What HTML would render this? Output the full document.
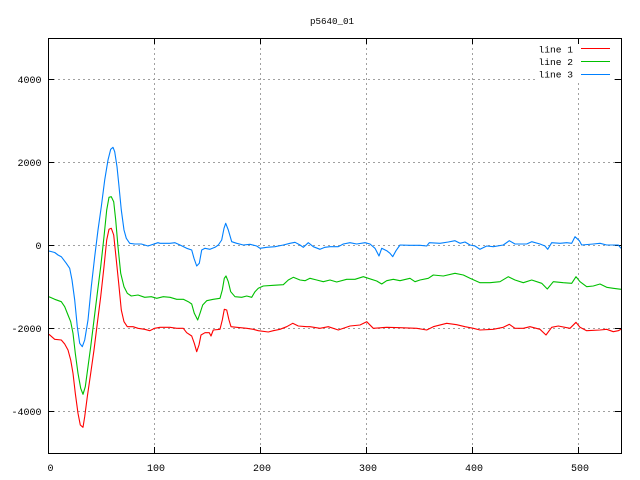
<!DOCTYPE html>
<html><head><meta charset="utf-8"><style>
html,body{margin:0;padding:0;background:#fff;}
svg{display:block;}
text{font-family:"Liberation Mono","DejaVu Sans Mono",monospace;fill:#000;}
</style></head><body>
<svg width="640" height="480" viewBox="0 0 640 480" xmlns="http://www.w3.org/2000/svg">
<rect x="0" y="0" width="640" height="480" fill="#fff"/>
<!-- grid -->
<g stroke="#a0a0a0" stroke-width="1" stroke-dasharray="2 3" fill="none">
<line x1="48" y1="79.5" x2="621" y2="79.5"/>
<line x1="48" y1="162.5" x2="621" y2="162.5"/>
<line x1="48" y1="245.5" x2="621" y2="245.5"/>
<line x1="48" y1="328.5" x2="621" y2="328.5"/>
<line x1="48" y1="411.5" x2="621" y2="411.5"/>
<line x1="154.5" y1="38" x2="154.5" y2="453"/>
<line x1="260.5" y1="38" x2="260.5" y2="453"/>
<line x1="366.5" y1="38" x2="366.5" y2="453"/>
<line x1="472.5" y1="38" x2="472.5" y2="453"/>
<line x1="578.5" y1="38" x2="578.5" y2="453"/>
</g>
<!-- legend background -->
<rect x="538" y="41" width="76" height="39" fill="#fff"/>
<!-- ticks -->
<g stroke="#000" stroke-width="1">
<line x1="48" y1="79.5" x2="54" y2="79.5"/><line x1="615" y1="79.5" x2="621" y2="79.5"/>
<line x1="48" y1="162.5" x2="54" y2="162.5"/><line x1="615" y1="162.5" x2="621" y2="162.5"/>
<line x1="48" y1="245.5" x2="54" y2="245.5"/><line x1="615" y1="245.5" x2="621" y2="245.5"/>
<line x1="48" y1="328.5" x2="54" y2="328.5"/><line x1="615" y1="328.5" x2="621" y2="328.5"/>
<line x1="48" y1="411.5" x2="54" y2="411.5"/><line x1="615" y1="411.5" x2="621" y2="411.5"/>
<line x1="154.5" y1="38" x2="154.5" y2="44"/><line x1="154.5" y1="447" x2="154.5" y2="453"/>
<line x1="260.5" y1="38" x2="260.5" y2="44"/><line x1="260.5" y1="447" x2="260.5" y2="453"/>
<line x1="366.5" y1="38" x2="366.5" y2="44"/><line x1="366.5" y1="447" x2="366.5" y2="453"/>
<line x1="472.5" y1="38" x2="472.5" y2="44"/><line x1="472.5" y1="447" x2="472.5" y2="453"/>
<line x1="578.5" y1="38" x2="578.5" y2="44"/><line x1="578.5" y1="447" x2="578.5" y2="453"/>
</g>
<!-- series -->
<g fill="none" stroke-width="1.1" stroke-linejoin="round">
<polyline stroke="#0080ff" points="49,251 54.7,252.5 58,255 61.3,256.7 66.3,263.3 69.7,268.3 72,280 74.7,300 77.3,326.7 79.7,343.3 82.3,346.7 84.7,340 88,320 91.3,286.7 94.7,256.7 98,230 101.3,206.7 104.7,180 108,160 110.7,149.3 113,147.3 114.7,151.7 117,166.7 118.7,183.3 121.3,210 124,230 126.3,238.3 129.7,243.3 134.7,244 141.3,244 148,246 158,242.7 160,243.3 170,243.3 175,242.7 180,245 186.7,248.3 191.7,250 194,258.3 196.7,266 199.3,263.3 201.7,250 205,248.3 210,249.3 215,247.3 218.3,245 221.7,240 224,228.3 225.7,223.3 228.3,230 231.7,241.7 236.7,243.3 243.3,245 250,244.3 256.7,246 260,248.3 266.7,247.3 275,246.7 283.3,245 290,243.3 295,242.3 300,245 303.3,247.3 308.3,242.7 313.3,246.7 320,249.3 325,247.3 330,246.7 338.3,246.7 343.3,244 350,242.7 356.7,244 365,242.7 370,244 375,248.3 379,256 381.7,248.3 386.7,250.7 390,253.3 392.7,256.7 396,250.7 400,245 410,245.3 420,245.3 426.7,246 429.3,242.7 440,243.3 448.3,242 455,240.7 460,243.3 465,242 470,245 475,246 480,249.3 486.7,246 493.3,246.7 503.3,245 509.3,240.7 515,244 526.7,244 531.7,241.7 540,244 545,246 547.7,249.3 551.7,242.7 560,243.3 566.7,242.7 571.7,243.3 575,236.7 579.3,240.7 581.7,245 593.3,244 600,243.3 606.7,245 618.3,245 621,248.3"/>
<polyline stroke="#00c000" points="49,296.7 54.7,299.3 61.3,301.7 64.7,306.7 68,315 70.7,321.7 73,333.3 75.3,353.3 78,373.3 80.7,388.3 83,394.3 85.3,386.7 88,366.7 90.7,346.7 94,320 97.3,293.3 100.7,266.7 104,236.7 106.7,210 109,197.3 111.3,196.7 113.7,201.7 115.7,220 118,246.7 120.7,273.3 124,286.7 127.3,293.3 131.3,296 138,295 144.7,297.3 151.3,296.7 156.7,298.3 163.3,296.7 170,297.3 176.7,299.3 183.3,299.3 188.3,301.7 191.7,304 194.3,313.3 197.7,320 200,313.3 202.7,305 206.7,300.7 213.3,299.3 220,298.3 222.3,290 224.3,278.3 226,276 228.3,281.7 230.7,291.7 235,296.7 241.7,297.3 246.7,296 251.7,297.3 255,291.7 258.3,288.3 263.3,286 273.3,285.3 283.3,284.7 288.3,280 293.3,277.3 300,280 305,280.7 310,278.3 316.7,280 323.3,281.7 330,280 336.7,282 346.7,279.3 355,279.3 363.3,276.7 368.3,278.3 376.7,281 381.7,284 386.7,280.7 393.3,279.3 400,280.7 410,278.3 415,281.7 420,280 428.3,278.3 433.3,275 443.3,276 455,273.3 463.3,275 470,278.3 480,282.7 490,282.7 500,281.7 508.3,276.7 515,280 523.3,282.7 531.7,280 541.7,283.3 547.3,289 553.3,281.7 563.3,282.7 571.7,283.3 576,276.7 580,281.7 586.7,286.7 593.3,286 600,284 606.7,287.3 613.3,288.3 621,289.3"/>
<polyline stroke="#ff0000" points="49,334.3 54.7,339.3 61.3,340 64.7,344 68,350 70.7,360 73,373.3 75.3,393.3 78,413.3 80.3,425 83,427.3 84.7,416.7 87.3,396.7 90.7,373.3 94,350 97.3,323.3 100.7,296.7 104,266.7 106.7,240 109,229.3 111.3,228.3 113.7,235 116.3,260 118.7,283.3 121.3,310 124,321.7 127.3,326.7 133,326.7 138,328.3 144.7,329.3 149.7,330.7 154.7,328.3 160,327.3 170,327.3 176.7,328.3 183.3,328.3 186.7,332.7 191.7,336 194.3,343.3 196.7,351.7 199,345 201,335 205,332.7 209.3,332.7 211,336 213.3,330 220,329.3 222.3,320 224.3,309.3 226.7,310 229,320 231,326.7 236.7,327.3 246.7,328.3 253.3,329.3 258.3,330.7 268.3,332 273.3,330.7 280,329.3 286.7,326.7 292.7,323.3 298.3,326 306.7,326.7 310,326.7 320,328.3 328.3,326.7 338.3,330 350,326 360,325 366.7,321.7 373.3,328.3 386.7,327.3 400,327.7 416.7,328.3 426.7,330 433.3,326.7 446.7,323.3 456.7,324.7 465,326.7 473.3,328.3 480,330 493.3,329.3 503.3,327.3 509.3,324.3 515,328.3 523.3,328.3 530,326.7 540,329.3 546,335 551.7,327.3 558.3,326 570,328.3 576,322.3 580,327.3 586.7,330.7 600,330 606.7,329.3 613.3,331.7 618.3,330.7 621,329.3"/>
</g>
<!-- frame -->
<rect x="48.5" y="38.5" width="573" height="415" fill="none" stroke="#000" stroke-width="1"/>
<!-- legend -->
<g font-size="9.6">
<text x="573" y="52.5" text-anchor="end">line 1</text>
<text x="573" y="65" text-anchor="end">line 2</text>
<text x="573" y="77.5" text-anchor="end">line 3</text>
</g>
<line x1="581" y1="48.5" x2="610" y2="48.5" stroke="#ff0000" stroke-width="1"/>
<line x1="581" y1="61.5" x2="610" y2="61.5" stroke="#00c000" stroke-width="1"/>
<line x1="581" y1="74.5" x2="610" y2="74.5" stroke="#0080ff" stroke-width="1"/>
<!-- y labels -->
<g font-size="10" text-anchor="end">
<text x="41.5" y="83">4000</text>
<text x="41.5" y="166">2000</text>
<text x="41.5" y="249">0</text>
<text x="41.5" y="332">-2000</text>
<text x="41.5" y="415">-4000</text>
</g>
<!-- x labels -->
<g font-size="10" text-anchor="middle">
<text x="50.5" y="471">0</text>
<text x="156" y="471">100</text>
<text x="262" y="471">200</text>
<text x="368" y="471">300</text>
<text x="474" y="471">400</text>
<text x="580" y="471">500</text>
</g>
<!-- title -->
<text x="332" y="24" font-size="9.2" text-anchor="middle">p5640_01</text>
</svg>
</body></html>
